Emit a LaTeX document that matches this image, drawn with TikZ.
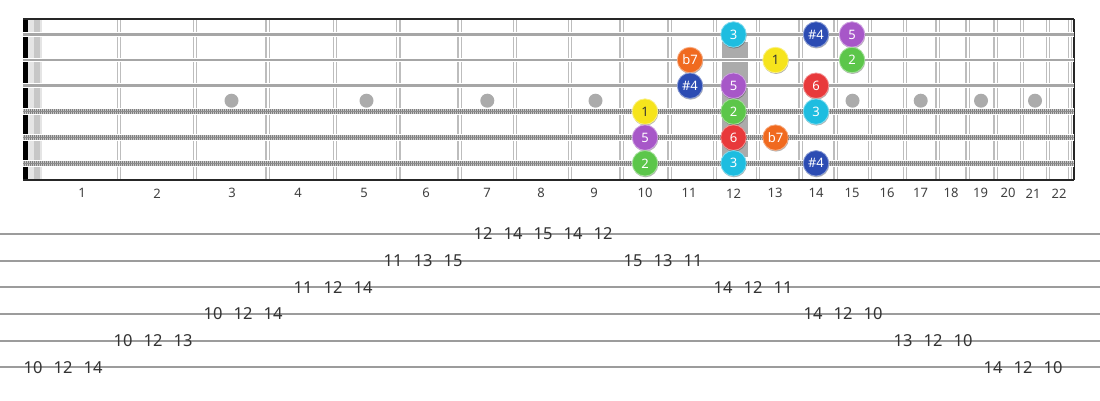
\documentclass[tikz,border=0pt]{standalone}
\usepackage{fontspec}
\setmainfont{Noto Sans}
\usetikzlibrary{shadows}
\definecolor{cthree}{HTML}{1EBDE0}
\definecolor{cfour}{HTML}{2C4CB3}
\definecolor{cfive}{HTML}{A757C8}
\definecolor{cseven}{HTML}{F06A1F}
\definecolor{cone}{HTML}{F6E41C}
\definecolor{ctwo}{HTML}{5CC64A}
\definecolor{csix}{HTML}{E8393B}
\definecolor{fretgray}{HTML}{BDBDBD}
\definecolor{strgray}{HTML}{A6A6A6}
\definecolor{tabgray}{HTML}{9C9C9C}
\definecolor{txtdark}{HTML}{333333}
\tikzset{
  note/.style={circle, minimum size=25.5pt, inner sep=0pt,
    font=\fontsize{13}{13}\selectfont, text=white, line width=0.8pt,
    drop shadow={shadow xshift=0.5pt, shadow yshift=-1.2pt, opacity=0.3, fill=black}},
  dthree/.style={note, fill=cthree, draw=cthree!55!white},
  dfour/.style={note, fill=cfour, draw=cfour!55!white},
  dfive/.style={note, fill=cfive, draw=cfive!55!white},
  dseven/.style={note, fill=cseven, draw=cseven!55!white},
  done/.style={note, fill=cone, draw=cone!55!white, text=txtdark},
  dtwo/.style={note, fill=ctwo, draw=ctwo!55!white},
  dsix/.style={note, fill=csix, draw=csix!55!white},
  fretlbl/.style={inner sep=0pt, font=\fontsize{13}{13}\selectfont, text=black!75},
  tabnum/.style={inner sep=0pt, font=\fontsize{16.5}{16.5}\selectfont, text=txtdark},
  tabline/.style={draw=tabgray, line width=2pt},
  fretline/.style={draw=fretgray, line width=1.4pt},
  plainstr/.style={draw=strgray, line width=2.6pt},
  inlay/.style={circle, fill=black!33, minimum size=14pt, inner sep=0pt},
}
\begin{document}
\begin{tikzpicture}[x=1pt,y=-1pt]
\useasboundingbox (0,0) rectangle (1100,400);
\fill[white] (0,0) rectangle (1100,400);
% light band next to nut
\fill[black!10] (28,19.3) rectangle (42,180);
\fill[black!22] (33.5,19.3) rectangle (40,180);
% frets (double lines)
\foreach \x in {119,195,267.5,335,398.3,459.7,515,570,621.5,669.7,715,758,800.5,835.5,870,905,937.5,967.5,995.5,1022,1048,1070}{
  \draw[fretline] (\x-1.7,19.3) -- (\x-1.7,180);
  \draw[fretline] (\x+1.7,19.3) -- (\x+1.7,180);
}
% inlay dots
\foreach \x [count=\i] in {231.5,366.5,487.3,595.5,852.5,920.7,981,1035}{
  \node[inlay] (dot\i) at (\x,100.7) {};
}
% fret-12 highlight bar
\fill[black!33] (722,41.7) rectangle (748,156.7);
% nut and borders
\fill[black] (23,19.3) rectangle (27.6,180);
\draw[black!85, line width=2pt] (23,19.3) -- (1074,19.3);
\draw[black!85, line width=2pt] (23,180) -- (1074,180);
\draw[black!85, line width=2pt] (1074,19.3) -- (1074,180);
% plain strings
\foreach \y in {34.5,60,85.7}{
  \draw[white, line width=4.6pt] (23,\y) -- (1074,\y);
  \draw[plainstr] (23,\y) -- (1074,\y);
}
% wound strings
\foreach \y in {111.6,137.6,163.3}{
  \draw[white, line width=6.4pt] (23,\y) -- (1074,\y);
  \draw[black!50, line width=4.6pt] (23,\y) -- (1074,\y);
  \draw[white, line width=4.6pt, dash pattern=on 0.9pt off 1.1pt, opacity=0.55] (23,\y) -- (1074,\y);
  \draw[black!45, line width=0.9pt] (23,\y) -- (1074,\y);
}
% fret numbers
\foreach \x [count=\n] in {82,157,232,298,364,426,487,541,594,645,689,733.5,775,816,852,887,920.5,951,980.5,1008,1033,1059}{
  \node[fretlbl] (fn\n) at (\x,193.3) {\n};
}
% notes
\node[dthree] (s1a) at (733.5,34.5) {3};
\node[dfour]  (s1b) at (816,34.5) {\#4};
\node[dfive]  (s1c) at (852,34.5) {5};
\node[dseven] (s2a) at (690,60) {b7};
\node[done]   (s2b) at (775.5,60) {1};
\node[dtwo]   (s2c) at (852,60) {2};
\node[dfour]  (s3a) at (690,85.7) {\#4};
\node[dfive]  (s3b) at (733.5,85.7) {5};
\node[dsix]   (s3c) at (816,85.7) {6};
\node[done]   (s4a) at (645,111.6) {1};
\node[dtwo]   (s4b) at (733.5,111.6) {2};
\node[dthree] (s4c) at (816,111.6) {3};
\node[dfive]  (s5a) at (645,137.6) {5};
\node[dsix]   (s5b) at (733.5,137.6) {6};
\node[dseven] (s5c) at (775.5,137.6) {b7};
\node[dtwo]   (s6a) at (645,163.3) {2};
\node[dthree] (s6b) at (733.5,163.3) {3};
\node[dfour]  (s6c) at (816,163.3) {\#4};
% tab lines
\foreach \k in {1,...,6}{
  \draw[tabline] (0,{234+26.67*(\k-1)}) -- (1100,{234+26.67*(\k-1)});
}
% tab numbers
\foreach \l/\t [count=\i from 0] in {6/10,6/12,6/14,5/10,5/12,5/13,4/10,4/12,4/14,3/11,3/12,3/14,2/11,2/13,2/15,1/12,1/14,1/15,1/14,1/12,2/15,2/13,2/11,3/14,3/12,3/11,4/14,4/12,4/10,5/13,5/12,5/10,6/14,6/12,6/10}{
  \node[tabnum] (t\i) at ({33+30*\i},{234+26.67*(\l-1)}) {\t};
}
\end{tikzpicture}
\end{document}
